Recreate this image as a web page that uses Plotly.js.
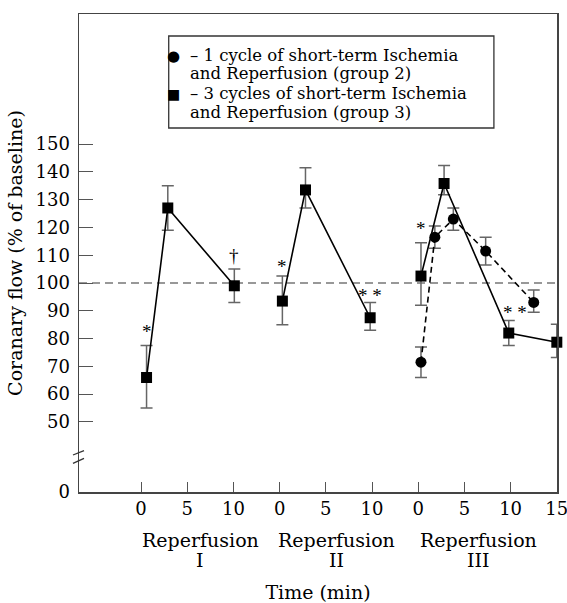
<!DOCTYPE html>
<html>
<head>
<meta charset="utf-8">
<script src="https://cdn.plot.ly/plotly-3.0.1.min.js"></script>
<style>html,body{margin:0;padding:0;background:#fff;}#chart{width:567px;height:603px;}</style>
</head>
<body>
<div id="chart"></div>
<script>
// ---- data ----
// group 3: 3 cycles of short-term ischemia and reperfusion (squares, solid)
var g3_I_time   = [0.6, 2.9, 10.1];
var g3_I_flow   = [66, 127, 99];
var g3_I_errUp  = [11.5, 8, 6];
var g3_I_errDn  = [11, 8, 6];

var g3_II_time  = [0.3, 2.8, 9.8];
var g3_II_flow  = [93.5, 133.5, 87.5];
var g3_II_errUp = [9, 8, 5.5];
var g3_II_errDn = [8.5, 6.5, 4.5];

var g3_III_time  = [0.3, 2.8, 9.8, 15];
var g3_III_flow  = [102.5, 135.8, 82, 78.7];
var g3_III_errUp = [12, 6.5, 4.5, 6.5];
var g3_III_errDn = [10.5, 4, 4.5, 5.5];

// group 2: 1 cycle of short-term ischemia and reperfusion (circles, dashed)
var g2_III_time  = [0.3, 1.8, 3.8, 7.3, 12.5];
var g2_III_flow  = [71.5, 116.5, 123, 111.5, 93];
var g2_III_errUp = [5.5, 4, 4, 5, 4.5];
var g2_III_errDn = [5.5, 4, 4, 5, 3.5];

// reperfusion periods placed side by side on the time axis
var periodNames   = ["Reperfusion", "Reperfusion", "Reperfusion"];
var periodNumbers = ["I", "II", "III"];
var periodOffsets = [0, 15, 30];

var xTickVals = [0, 5, 10, 15, 20, 25, 30, 35, 40, 45];
var xTickText = ["0", "5", "10", "0", "5", "10", "0", "5", "10", "15"];
var yTickVals = [50, 60, 70, 80, 90, 100, 110, 120, 130, 140, 150];
var yTickText = ["50", "60", "70", "80", "90", "100", "110", "120", "130", "140", "150"];
var yBreakLabel = "0";
var baseline = 100;

// significance marks: [period index, time, y position, text]
var marks = [
  [0, 0.6, 82.5, "*"],
  [0, 10.1, 110, "†"],
  [1, 0.3, 106, "*"],
  [1, 9.8, 95.5, "* *"],
  [2, 0.3, 119.5, "*"],
  [2, 10.5, 89.5, "* *"]
];

var legendLines = ["– 1 cycle of short-term Ischemia", "and Reperfusion (group 2)",
                   "– 3 cycles of short-term Ischemia", "and Reperfusion (group 3)"];

// ---- build ----
var FONT = "DejaVu Serif";
var yMin = 24.8, yMax = 196.8;

function shift(arr, off) { return arr.map(function (t) { return t + off; }); }

function sq(time, flow, up, dn, off) {
  return {
    x: shift(time, off), y: flow, type: "scatter", mode: "lines+markers",
    line: {color: "#000", width: 1.6},
    marker: {symbol: "square", size: 11, color: "#000"},
    error_y: {type: "data", symmetric: false, array: up, arrayminus: dn,
              color: "#666", thickness: 1.5, width: 6},
    showlegend: false, cliponaxis: false
  };
}

var traces = [
  sq(g3_I_time, g3_I_flow, g3_I_errUp, g3_I_errDn, periodOffsets[0]),
  sq(g3_II_time, g3_II_flow, g3_II_errUp, g3_II_errDn, periodOffsets[1]),
  {
    x: shift(g2_III_time, periodOffsets[2]), y: g2_III_flow, type: "scatter", mode: "lines+markers",
    line: {color: "#000", width: 1.6, dash: "6px,4px"},
    marker: {symbol: "circle", size: 11, color: "#000"},
    error_y: {type: "data", symmetric: false, array: g2_III_errUp, arrayminus: g2_III_errDn,
              color: "#666", thickness: 1.5, width: 6},
    showlegend: false, cliponaxis: false
  },
  sq(g3_III_time, g3_III_flow, g3_III_errUp, g3_III_errDn, periodOffsets[2])
];

var yVals = [yMin].concat(yTickVals);
var yText = [yBreakLabel].concat(yTickText);

var annotations = [];
for (var i = 0; i < 3; i++) {
  var cx = [6.4, 21.2, 36.5][i];
  annotations.push({x: cx, xref: "x", y: -0.100, yref: "paper", text: periodNames[i],
    showarrow: false, font: {family: FONT, size: 19, color: "#000"}, xanchor: "center", yanchor: "middle"});
  annotations.push({x: cx, xref: "x", y: -0.142, yref: "paper", text: periodNumbers[i],
    showarrow: false, font: {family: FONT, size: 19, color: "#000"}, xanchor: "center", yanchor: "middle"});
}
marks.forEach(function (m) {
  annotations.push({x: periodOffsets[m[0]] + m[1], y: m[2], xref: "x", yref: "y", text: m[3],
    showarrow: false, font: {family: "Liberation Serif", size: 19, color: "#000"}, xanchor: "center", yanchor: "middle"});
});
// legend (text annotations inside a framed box)
var legendY = [0.9125, 0.875, 0.8327, 0.7929];
legendLines.forEach(function (t, k) {
  annotations.push({x: 0.2280, y: legendY[k], xref: "paper", yref: "paper", xanchor: "left", yanchor: "middle",
    align: "left", showarrow: false, text: t, font: {family: FONT, size: 16.5, color: "#000"}});
});
annotations.push({x: 0.1967, y: 0.912, xref: "paper", yref: "paper", xanchor: "center", yanchor: "middle",
  showarrow: false, text: "●", font: {family: "DejaVu Sans", size: 15, color: "#000"}});
annotations.push({x: 0.1967, y: 0.8327, xref: "paper", yref: "paper", xanchor: "center", yanchor: "middle",
  showarrow: false, text: "■", font: {family: "DejaVu Sans", size: 14, color: "#000"}});

var shapes = [
  {type: "line", xref: "paper", x0: 0, x1: 1, yref: "y", y0: baseline, y1: baseline,
   line: {color: "#777", width: 1.5, dash: "8px,5px"}, layer: "below"},
  {type: "rect", xref: "paper", yref: "paper", x0: 0.1877, x1: 0.868, y0: 0.7615, y1: 0.954,
   line: {color: "#333", width: 1.3}, fillcolor: "rgba(0,0,0,0)"},
  // axis break marks
  {type: "line", xref: "paper", yref: "paper", x0: -0.0126, x1: 0.0105, y0: 0.0774, y1: 0.0864,
   line: {color: "#333", width: 1.3}},
  {type: "line", xref: "paper", yref: "paper", x0: -0.0126, x1: 0.0105, y0: 0.060, y1: 0.0705,
   line: {color: "#333", width: 1.3}}
];

var layout = {
  width: 567, height: 603,
  margin: {l: 79, r: 10, t: 14, b: 111, pad: 0},
  paper_bgcolor: "#fff", plot_bgcolor: "#fff",
  font: {family: FONT, color: "#000"},
  showlegend: false,
  xaxis: {
    range: [-6.71, 45.02], tickmode: "array", tickvals: xTickVals, ticktext: xTickText,
    ticks: "inside", ticklen: 10, tickwidth: 1, tickcolor: "#555",
    showline: true, linecolor: "#444", linewidth: 1.5, mirror: true,
    showgrid: false, zeroline: false, ticklabeloverflow: "allow",
    tickfont: {family: FONT, size: 18, color: "#000"},
    title: {text: "Time (min)", font: {family: FONT, size: 19, color: "#000"}, standoff: 68},
    automargin: false, fixedrange: true
  },
  yaxis: {
    range: [yMin, yMax], tickmode: "array", tickvals: yVals, ticktext: yText,
    ticks: "inside", ticklen: 14, tickwidth: 1, tickcolor: "#555",
    showline: true, linecolor: "#444", linewidth: 1.5, mirror: true,
    showgrid: false, zeroline: false, ticklabelstandoff: 4,
    tickfont: {family: FONT, size: 18, color: "#000"},
    title: {text: "Coranary flow (% of baseline)", font: {family: FONT, size: 19, color: "#000"}, standoff: 8},
    automargin: false, fixedrange: true
  },
  annotations: annotations,
  shapes: shapes
};

Plotly.newPlot("chart", traces, layout, {displayModeBar: false, staticPlot: true});
</script>
</body>
</html>
